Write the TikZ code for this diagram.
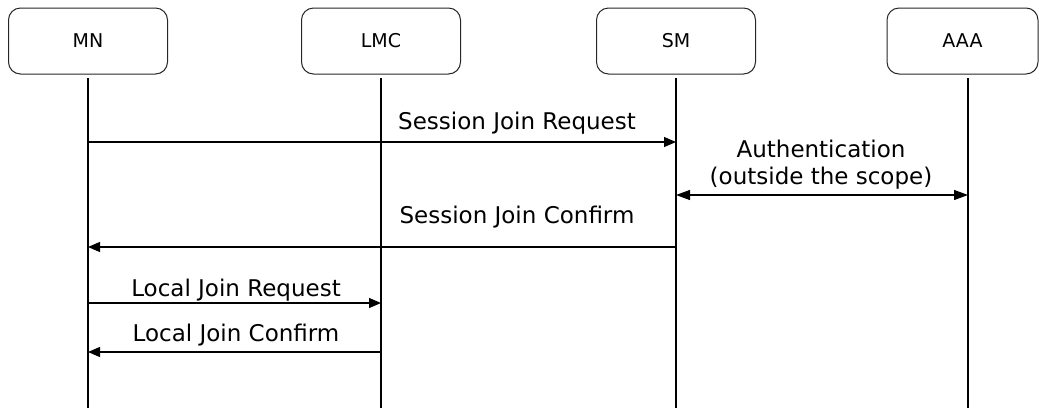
\documentclass[tikz,border=0pt]{standalone}
\usepackage{fontspec}
\setmainfont{DejaVu Sans}
\usetikzlibrary{arrows.meta}
\begin{document}
\begin{tikzpicture}[x=1pt,y=-1pt,
  actor/.style={draw=black!85, line width=1pt, rounded corners=12pt,
    minimum width=159pt, minimum height=66pt, inner sep=0pt,
    font=\fontsize{19}{21}\selectfont},
  life/.style={line width=1.1pt},
  msg/.style={line width=1.2pt, -{Triangle[length=12pt,width=10pt]}},
  bimsg/.style={line width=1.2pt, {Triangle[length=14pt,width=10pt]}-{Triangle[length=14pt,width=10pt]}},
  lbl/.style={anchor=base, inner sep=0pt, font=\fontsize{23}{26}\selectfont}]
\useasboundingbox (0,0) rectangle (1039,408);
% actors
\node[actor] (mn) at (88,41) {MN};
\node[actor] (lmc) at (381,41) {LMC};
\node[actor] (sm) at (676,41) {SM};
\node[actor, minimum width=151pt] (aaa) at (962.5,41) {AAA};
% lifelines
\coordinate (mnT) at (88,78);   \coordinate (mnB) at (88,408);
\coordinate (lmcT) at (381,78); \coordinate (lmcB) at (381,408);
\coordinate (smT) at (676,78);  \coordinate (smB) at (676,408);
\coordinate (aaaT) at (968,78); \coordinate (aaaB) at (968,408);
\draw[life] (mnT) -- (mnB);
\draw[life] (lmcT) -- (lmcB);
\draw[life] (smT) -- (smB);
\draw[life] (aaaT) -- (aaaB);
% rows
\coordinate (r1) at (0,142);
\coordinate (r2) at (0,195);
\coordinate (r3) at (0,247);
\coordinate (r4) at (0,303);
\coordinate (r5) at (0,352);
% messages
\draw[msg] (mnT |- r1) -- (smT |- r1);
\node[lbl] (l1) at (517,129) {Session Join Request};
\draw[bimsg] (smT |- r2) -- (aaaT |- r2);
\node[lbl] (l2a) at (821,157) {Authentication};
\node[lbl] (l2b) at (821,184) {(outside the scope)};
\draw[msg] (smT |- r3) -- (mnT |- r3);
\node[lbl] (l3) at (517,223) {Session Join Confirm};
\draw[msg] (mnT |- r4) -- (lmcT |- r4);
\node[lbl] (l4) at (236,296) {Local Join Request};
\draw[msg] (lmcT |- r5) -- (mnT |- r5);
\node[lbl] (l5) at (236,341) {Local Join Confirm};
\end{tikzpicture}
\end{document}
